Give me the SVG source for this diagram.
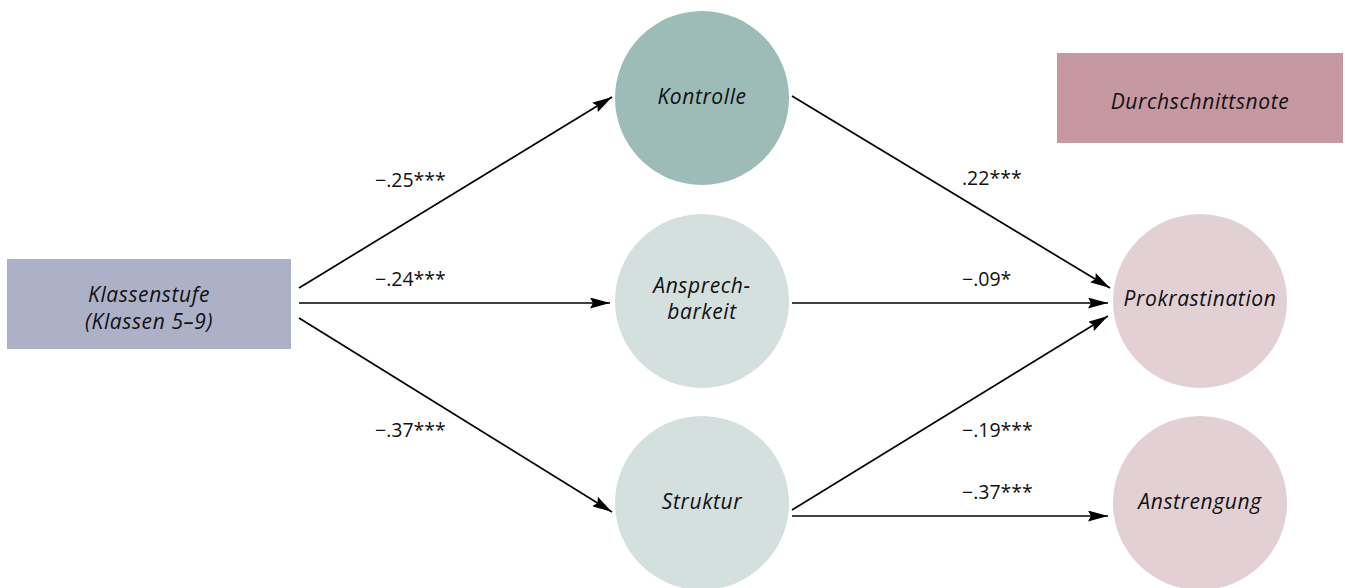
<svg xmlns="http://www.w3.org/2000/svg" width="1345" height="588" viewBox="0 0 1345 588">
<style>
.lbl{font-family:"Open Sans","Liberation Sans",sans-serif;font-style:italic;font-size:21px;letter-spacing:0.6px;fill:#111;text-anchor:middle}
.num{font-family:"Open Sans","Liberation Sans",sans-serif;font-size:19.5px;fill:#111}
.edge{stroke:#000;stroke-width:1.7;fill:none;marker-end:url(#ah)}
</style>
<defs>
<marker id="ah" viewBox="0 0 20 11" refX="20" refY="5.5" markerWidth="20" markerHeight="11" markerUnits="userSpaceOnUse" orient="auto">
<path d="M0,0 L20,5.5 L0,11 L3,5.5 Z" fill="#000"/>
</marker>
</defs>
<rect width="1345" height="588" fill="#fff"/>
<g id="connectors">
<line class="edge" x1="299" y1="288" x2="612" y2="97"/>
<line class="edge" x1="299" y1="303" x2="610" y2="303"/>
<line class="edge" x1="299" y1="318" x2="612" y2="512"/>
<line class="edge" x1="792" y1="96" x2="1110" y2="288"/>
<line class="edge" x1="792" y1="303" x2="1108" y2="303"/>
<line class="edge" x1="792" y1="510" x2="1108" y2="316"/>
<line class="edge" x1="792" y1="516" x2="1108" y2="516"/>
</g>
<g id="edge-labels">
<text class="num" x="375" y="187">−.25***</text>
<text class="num" x="375" y="286">−.24***</text>
<text class="num" x="375" y="437">−.37***</text>
<text class="num" x="962" y="185">.22***</text>
<text class="num" x="962" y="286">−.09*</text>
<text class="num" x="962" y="437">−.19***</text>
<text class="num" x="962" y="499">−.37***</text>
</g>
<g id="klassenstufe">
<rect x="7" y="259" width="284" height="90" fill="#adb1c8"/>
<text class="lbl" x="149" y="302">Klassenstufe</text>
<text class="lbl" x="149" y="329">(Klassen 5–9)</text>
</g>
<g id="kontrolle">
<circle cx="702" cy="98" r="87" fill="#9dbcb7"/>
<text class="lbl" x="702" y="104">Kontrolle</text>
</g>
<g id="ansprechbarkeit">
<circle cx="702" cy="301" r="87" fill="#d3e0de"/>
<text class="lbl" x="702" y="293">Ansprech-</text>
<text class="lbl" x="702" y="319">barkeit</text>
</g>
<g id="struktur">
<circle cx="702" cy="503" r="87" fill="#d3e0de"/>
<text class="lbl" x="702" y="509">Struktur</text>
</g>
<g id="durchschnittsnote">
<rect x="1057" y="53" width="286" height="90" fill="#c698a1"/>
<text class="lbl" x="1200" y="109">Durchschnittsnote</text>
</g>
<g id="prokrastination">
<circle cx="1200" cy="301" r="87" fill="#e3d0d5"/>
<text class="lbl" x="1200" y="306">Prokrastination</text>
</g>
<g id="anstrengung">
<circle cx="1200" cy="503" r="87" fill="#e3d0d5"/>
<text class="lbl" x="1200" y="509">Anstrengung</text>
</g>
</svg>
